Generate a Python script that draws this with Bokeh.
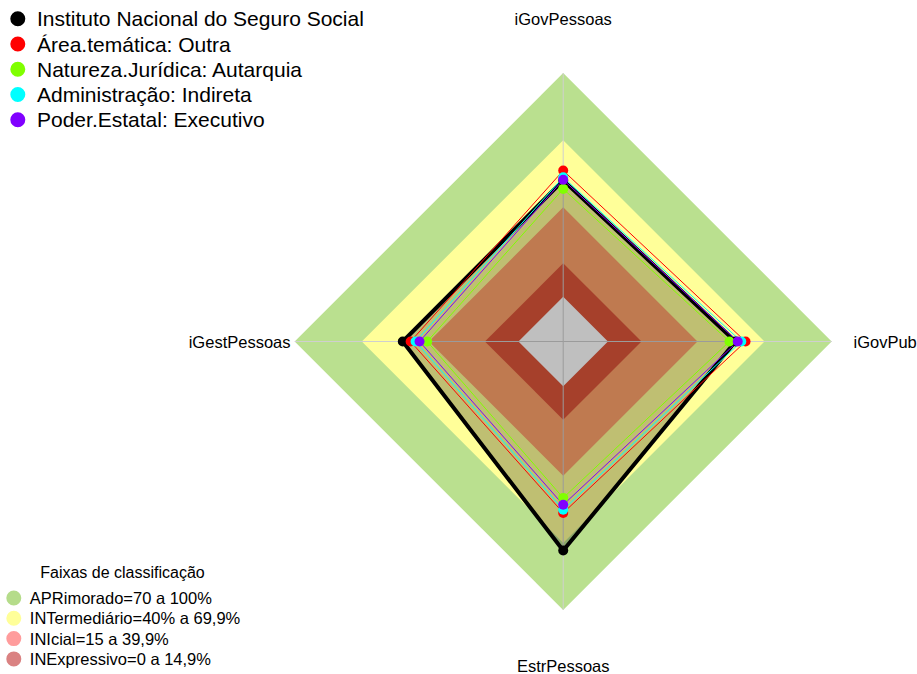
import numpy as np
from bokeh.plotting import figure
from bokeh.models import Range1d
from bokeh.embed import file_html
from bokeh.resources import INLINE
from bokeh.core.properties import value

# ---------------- data ----------------
axis_labels = ["iGovPessoas", "iGestPessoas", "EstrPessoas", "iGovPub"]

series_names = [
    "Instituto Nacional do Seguro Social",
    "Área.temática: Outra",
    "Natureza.Jurídica: Autarquia",
    "Administração: Indireta",
    "Poder.Estatal: Executivo",
]
inss = [52.0, 51.7, 73.4, 57.0]
outra = [56.4, 48.2, 56.6, 61.5]
autarquia = [48.2, 40.8, 49.9, 54.3]
indireta = [53.4, 46.0, 55.2, 59.6]
executivo = [52.3, 44.2, 53.0, 58.0]
series_values = [inss, outra, autarquia, indireta, executivo]
series_colors = ["#000000", "#FF0000", "#80FF00", "#00FFFF", "#8000FF"]
series_widths = [4, 1, 1, 1, 1]

band_title = "Faixas de classificação"
band_labels = [
    "APRimorado=70 a 100%",
    "INTermediário=40% a 69,9%",
    "INIcial=15 a 39,9%",
    "INExpressivo=0 a 14,9%",
]
band_upper = [100, 70, 40, 15, 0]
band_fill = ["#BAE08F", "#FFFF99", "#FFA36B", "#DE563A", "#FFFFFF"]
band_legend_colors = ["#B5DC8A", "#FFFF99", "#FF9C9C", "#DA8282"]

# ---------------- geometry ----------------
CX, CY = 562.7, 341.0          # page position of radar centre
R = 268.5                      # radius of 100 %
W, H = 917, 674

angles = np.deg2rad([90, 180, 270, 0])


def rad(v):
    v = np.asarray(v, dtype=float)
    return R * (1.0 + 5.0 * v / 100.0) / 6.0


def poly(vals):
    r = rad(vals)
    return list(r * np.cos(angles)), list(r * np.sin(angles))


def px(X):
    return X - CX


def py(Y):
    return CY - Y


p = figure(width=W, height=H, output_backend="svg", toolbar_location=None,
           tools="", x_range=Range1d(-CX, W - CX),
           y_range=Range1d(CY - H, CY),
           x_axis_location=None, y_axis_location=None, min_border=0)
p.grid.visible = False
p.outline_line_color = None
p.background_fill_color = "white"
p.border_fill_color = "white"

# bands
for v, c in zip(band_upper, band_fill):
    xs, ys = poly([v] * 4)
    p.patch(xs, ys, fill_color=c, line_color=None)

# axis lines
xe, ye = poly([100] * 4)
for x1, y1 in zip(xe, ye):
    p.line([0, x1], [0, y1], line_color="#CFCFCF", line_width=1)

# fill of main series
xs, ys = poly(inss)
p.patch(xs, ys, fill_color="black", fill_alpha=0.25, line_color=None)

# series
for vals, col, lw in zip(series_values, series_colors, series_widths):
    xs, ys = poly(vals)
    p.line(xs + xs[:1], ys + ys[:1], line_color=col, line_width=lw)
for vals, col in zip(series_values, series_colors):
    xs, ys = poly(vals)
    p.scatter(xs, ys, size=10, fill_color=col, line_color=None)

FONT = value("Liberation Sans")

# axis labels
lab_x = [px(CX), px(290), px(CX), px(853)]
lab_y = [py(18), py(341), py(665), py(341)]
lab_align = ["center", "right", "center", "left"]
for t, x, y, a in zip(axis_labels, lab_x, lab_y, lab_align):
    p.text([x], [y], text=[t], text_font=FONT, text_font_size="16.5px",
           text_align=a, text_baseline="middle", text_color="black")

# top legend
for i, (n, c) in enumerate(zip(series_names, series_colors)):
    Y = 18.3 + i * 25.25
    p.scatter([px(17.3)], [py(Y)], size=15, fill_color=c, line_color=None)
    p.text([px(36.5)], [py(Y)], text=[n], text_font=FONT, text_font_size="21px",
           text_align="left", text_baseline="middle", text_color="black")

# bands legend
p.text([px(122)], [py(572)], text=[band_title], text_font=FONT,
       text_font_size="16px", text_align="center", text_baseline="middle",
       text_color="black")
for i, (n, c) in enumerate(zip(band_labels, band_legend_colors)):
    Y = 597.5 + i * 20.3
    p.scatter([px(13.3)], [py(Y)], size=15, fill_color=c, line_color=None)
    p.text([px(29.3)], [py(Y)], text=[n], text_font=FONT, text_font_size="16.5px",
           text_align="left", text_baseline="middle", text_color="black")

open("out.html", "w").write(file_html(p, INLINE))
